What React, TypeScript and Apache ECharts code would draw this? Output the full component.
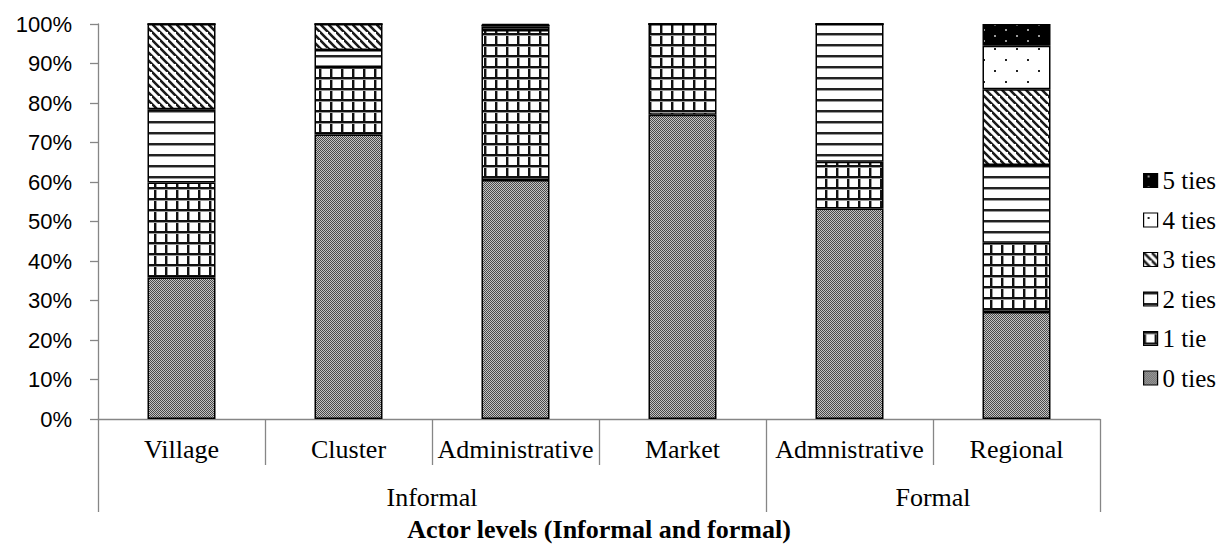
import React, { useEffect, useRef } from "react";
import * as echarts from "echarts";

const categories = ["Village", "Cluster", "Administrative", "Market", "Admnistrative", "Regional"];
const groupLabels = ["Informal", "Formal"];
const seriesNames = ["0 ties", "1 tie", "2 ties", "3 ties", "4 ties", "5 ties"];
const ties0 = [35.8, 72.0, 60.5, 77.0, 53.3, 27.1];
const ties1 = [24.1, 17.1, 38.0, 23.0, 11.8, 17.5];
const ties2 = [18.5, 4.3, 0.8, 0, 34.9, 19.7];
const ties3 = [21.6, 6.6, 0.4, 0, 0, 19.2];
const ties4 = [0, 0, 0, 0, 0, 11.0];
const ties5 = [0, 0, 0.3, 0, 0, 5.5];

function svgUrl(w: number, h: number, body: string, crisp = true) {
  const svg = `<svg xmlns="http://www.w3.org/2000/svg" width="${w}" height="${h}"${crisp ? ' shape-rendering="crispEdges"' : ""}>${body}</svg>`;
  return "data:image/svg+xml;charset=utf-8," + encodeURIComponent(svg);
}

function pattern(w: number, h: number, body: string, crisp = true) {
  return { image: svgUrl(w, h, body, crisp), repeat: "repeat", imageWidth: w, imageHeight: h } as any;
}

const patterns = [
  // 0 ties: fine gray stipple
  pattern(2, 2,
    `<rect width="2" height="2" fill="#c4c4c4"/><rect x="0" y="0" width="1" height="1" fill="#4a4a4a"/><rect x="1" y="1" width="1" height="1" fill="#4a4a4a"/>`),
  // 1 tie: grid
  pattern(11, 11,
    `<rect width="11" height="11" fill="#fff"/><rect x="0" y="0" width="2" height="11" fill="#111"/><rect x="2" y="0" width="1" height="11" fill="#999"/><rect x="0" y="0" width="11" height="2" fill="#111"/><rect x="0" y="2" width="11" height="1" fill="#999"/>`),
  // 2 ties: horizontal stripes
  pattern(11, 11,
    `<rect width="11" height="11" fill="#fff"/><rect x="0" y="0" width="11" height="2" fill="#222"/><rect x="0" y="2" width="11" height="1" fill="#999"/>`),
  // 3 ties: diagonal stripes
  pattern(8, 8,
    `<rect width="8" height="8" fill="#fff"/><path d="M-4,-4L12,12M-12,-4L4,12M4,-12L20,4" stroke="#1a1a1a" stroke-width="2.6"/>`, false),
  // 4 ties: sparse dots
  pattern(22, 22,
    `<rect width="22" height="22" fill="#fff"/><rect x="4" y="4" width="2" height="2" fill="#222"/><rect x="15" y="15" width="2" height="2" fill="#222"/>`),
  // 5 ties: black with gray dots
  pattern(22, 11,
    `<rect width="22" height="11" fill="#000"/><rect x="4" y="2" width="2" height="2" fill="#9a9a9a"/><rect x="15" y="7" width="2" height="2" fill="#9a9a9a"/>`),
];

const seriesData = [ties0, ties1, ties2, ties3, ties4, ties5];

export default function App() {
  const ref = useRef<HTMLDivElement>(null);
  useEffect(() => {
    if (!ref.current) return;
    const chart = echarts.init(ref.current, undefined, { renderer: "svg" });
    const serif = "'Liberation Serif', 'Times New Roman', serif";
    const sans = "'Liberation Sans', Arial, sans-serif";
    const legendText = { fontFamily: serif, fontSize: 25, color: "#000", lineHeight: 25 };
    chart.setOption({
      animation: false,
      backgroundColor: "#fff",
      textStyle: { fontFamily: serif },
      grid: { left: 98, right: 119, top: 24, bottom: 126, containLabel: false, outerBoundsMode: "none" },
      legend: {
        orient: "vertical",
        left: 1138,
        top: 163,
        itemWidth: 14,
        itemHeight: 14,
        itemGap: 14.5,
        icon: "rect",
        data: [...seriesNames].reverse().map((n) => ({ name: n, textStyle: legendText })),
        formatter: "{s|{name}}",
        textStyle: { ...legendText, rich: { s: legendText } },
        itemStyle: { borderColor: "#000", borderWidth: 1.2 },
      },
      xAxis: [
        {
          type: "category",
          data: categories,
          axisLine: { show: true, lineStyle: { color: "#868686", width: 1.3 } },
          axisTick: { show: true, interval: 0, length: 46, lineStyle: { color: "#868686", width: 1.3 } },
          axisLabel: { interval: 0, margin: 17, fontFamily: serif, fontSize: 26, color: "#000" },
        },
        {
          type: "value",
          min: 0,
          max: 6,
          position: "bottom",
          offset: 46,
          axisLine: { show: false },
          splitLine: { show: false },
          axisTick: { show: true, customValues: [0, 4, 6], length: 47, lineStyle: { color: "#868686", width: 1.3 } },
          axisLabel: {
            customValues: [2, 5],
            margin: 19,
            fontFamily: serif,
            fontSize: 26,
            color: "#000",
            formatter: (v: number) => (v === 2 ? groupLabels[0] : groupLabels[1]),
          },
          name: "Actor levels (Informal and formal)",
          nameLocation: "middle",
          nameGap: 51,
          nameTextStyle: { fontFamily: serif, fontSize: 26, fontWeight: "bold", color: "#000" },
        },
      ],
      yAxis: {
        type: "value",
        min: 0,
        max: 100,
        interval: 10,
        axisLine: { show: true, lineStyle: { color: "#868686", width: 1.3 } },
        axisTick: { show: true, length: 8, lineStyle: { color: "#868686", width: 1.3 } },
        splitLine: { show: false },
        axisLabel: { formatter: "{value}%", margin: 26, fontFamily: sans, fontSize: 22, color: "#000" },
      },
      series: seriesNames.map((name, i) => ({
        name,
        type: "bar",
        stack: "total",
        xAxisIndex: 0,
        barWidth: 68,
        data: seriesData[i],
        itemStyle: { color: patterns[i], borderColor: "#000", borderWidth: 1.5 },
        emphasis: { disabled: true },
      })),
    });
    return () => chart.dispose();
  }, []);
  return <div ref={ref} style={{ position: "absolute", left: 0, top: 0, width: 1219, height: 545 }} />;
}
